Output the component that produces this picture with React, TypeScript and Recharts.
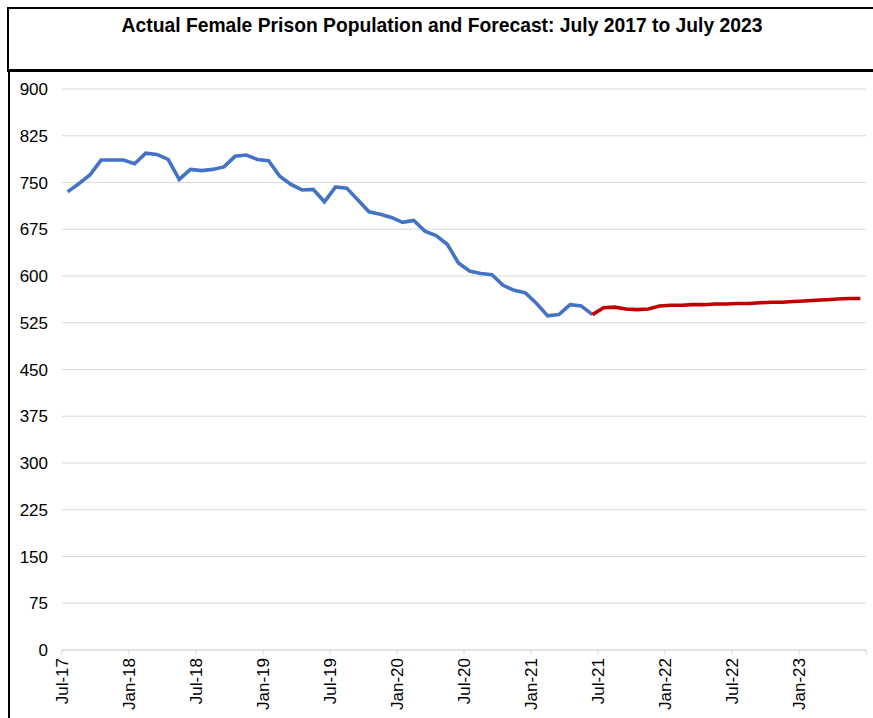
import { LineChart, Line, XAxis, YAxis, CartesianGrid } from 'recharts'

// months from Jul-17, one value per month
const MONTH_NAMES = ['Jan', 'Feb', 'Mar', 'Apr', 'May', 'Jun', 'Jul', 'Aug', 'Sep', 'Oct', 'Nov', 'Dec']

// actual population, Jul-17 .. Jun-21
const actual = [
  735, 748, 762, 786, 786, 786, 780, 797, 795, 787, 755, 771,
  769, 771, 775, 792, 794, 787, 785, 760, 747, 738, 739, 719,
  743, 741, 722, 703, 699, 694, 686, 689, 672, 665, 651, 621,
  608, 604, 602, 585, 577, 573, 556, 536, 538, 554, 552, 538,
]

// forecast, Jun-21 .. Jun-23 (first point joins the actual line)
const forecast = [
  538, 549, 550, 547, 546, 547, 552, 553, 553, 554, 554, 555,
  555, 556, 556, 557, 558, 558, 559, 560, 561, 562, 563, 564, 564,
]

const yTicks = [0, 75, 150, 225, 300, 375, 450, 525, 600, 675, 750, 825, 900]
const xTicks = [0, 6, 12, 18, 24, 30, 36, 42, 48, 54, 60, 66, 72]

const FORECAST_START = actual.length - 1
const FONT = '"Liberation Sans", Arial, sans-serif'

// points sit mid-month
const data = Array.from({ length: FORECAST_START + forecast.length }, (_, i) => ({
  m: i + 0.5,
  actual: i < actual.length ? actual[i] : null,
  forecast: i >= FORECAST_START ? forecast[i - FORECAST_START] : null,
}))

function monthLabel(m: number) {
  if (m >= 72) return ''
  const idx = (6 + m) % 12
  const year = 17 + Math.floor((6 + m) / 12)
  return `${MONTH_NAMES[idx]}-${year}`
}

function XTick(props: any) {
  const { x, y, payload } = props
  const label = monthLabel(payload.value)
  if (!label) return null
  return (
    <text
      x={x}
      y={y}
      transform={`rotate(-90, ${x}, ${y})`}
      textAnchor="end"
      dominantBaseline="central"
      fontSize={17}
      fontFamily={FONT}
      fill="#000"
    >
      {label}
    </text>
  )
}

export default function App() {
  return (
    <div
      style={{
        position: 'absolute',
        left: 0,
        top: 0,
        width: 873,
        height: 718,
        background: '#fff',
        overflow: 'hidden',
        fontFamily: FONT,
      }}
    >
      <div
        style={{
          position: 'absolute',
          left: 7,
          top: 7,
          width: 880,
          height: 60,
          borderTop: '2px solid #000',
          borderLeft: '2px solid #000',
          borderBottom: '3px solid #000',
          textAlign: 'center',
          boxSizing: 'content-box',
        }}
      >
        <div
          style={{
            position: 'absolute',
            left: 0,
            width: 866,
            top: 6,
            fontWeight: 'bold',
            fontSize: 19.3,
            color: '#000',
          }}
        >
          Actual Female Prison Population and Forecast: July 2017 to July 2023
        </div>
      </div>
      <div
        style={{
          position: 'absolute',
          left: 8,
          top: 72,
          width: 2,
          height: 646,
          background: '#000',
        }}
      />
      <div style={{ position: 'absolute', left: 0, top: 72 }}>
        <LineChart
          width={873}
          height={646}
          data={data}
          margin={{ top: 17, right: 7, left: 0, bottom: 0 }}
        >
          <CartesianGrid vertical={false} stroke="#d9d9d9" strokeWidth={1} />
          <XAxis
            type="number"
            dataKey="m"
            domain={[0, 72]}
            ticks={xTicks}
            interval={0}
            height={68}
            axisLine={{ stroke: '#d9d9d9' }}
            tickLine={{ stroke: '#d9d9d9' }}
            tickSize={5}
            tickMargin={3}
            tick={<XTick />}
          />
          <YAxis
            type="number"
            domain={[0, 900]}
            ticks={yTicks}
            interval={0}
            width={62}
            axisLine={false}
            tickLine={false}
            tickMargin={8}
            tick={{ fontSize: 17, fill: '#000', fontFamily: FONT }}
          />
          <Line
            dataKey="actual"
            stroke="#4472C4"
            strokeWidth={3.6}
            dot={false}
            isAnimationActive={false}
            connectNulls={false}
          />
          <Line
            dataKey="forecast"
            stroke="#C00000"
            strokeWidth={3.6}
            dot={false}
            isAnimationActive={false}
            connectNulls={false}
          />
        </LineChart>
      </div>
    </div>
  )
}
